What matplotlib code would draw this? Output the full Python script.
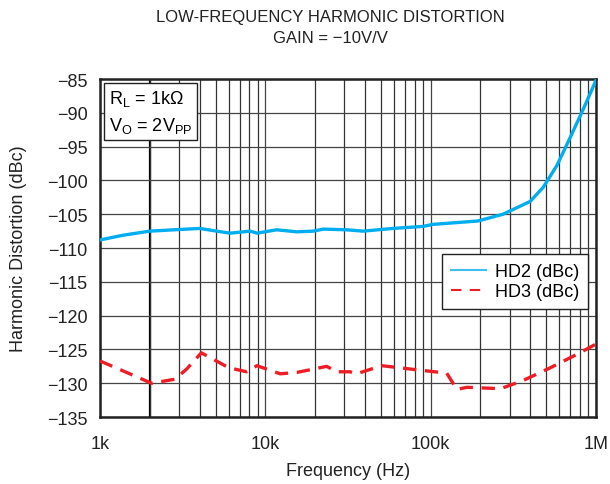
import matplotlib
matplotlib.use("Agg")
import matplotlib.pyplot as plt
from matplotlib.ticker import FixedLocator, NullFormatter
from matplotlib.lines import Line2D
import numpy as np

plt.rcParams['font.family'] = ['Liberation Sans', 'DejaVu Sans']

hd2_freq = [1000, 1380, 2000, 3340, 4000, 6100, 8100, 8900, 11700, 15500, 19500, 22400,
            31000, 39000, 59000, 90000, 103000, 193000, 274000, 400000, 480000, 580000,
            700000, 840000, 1000000]
hd2_db = [-108.8, -108.1, -107.5, -107.2, -107.1, -107.8, -107.5, -107.8, -107.3, -107.6,
          -107.5, -107.2, -107.3, -107.5, -107.1, -106.8, -106.5, -106.0, -105.0, -103.1,
          -101.0, -97.8, -93.6, -89.4, -85.2]

hd3_freq = [1000, 2050, 2840, 3340, 4100, 4800, 6000, 7700, 8900, 12300, 15500, 23500,
            27000, 32500, 35600, 50600, 82000, 125000, 144000, 166000, 265000, 362000,
            530000, 770000, 1000000]
hd3_db = [-126.7, -130.0, -129.4, -127.9, -125.5, -126.4, -127.7, -128.3, -127.4, -128.6,
          -128.4, -127.5, -128.3, -128.3, -128.6, -127.4, -128.0, -128.5, -130.9, -130.6,
          -130.8, -129.6, -127.7, -125.7, -124.2]

yticks = [-85, -90, -95, -100, -105, -110, -115, -120, -125, -130, -135]
xticks = [1e3, 1e4, 1e5, 1e6]
xticklabels = ['1k', '10k', '100k', '1M']

fig = plt.figure(figsize=(6.1, 4.85), dpi=100)
ax = fig.add_axes([0.164, 0.138, 0.813, 0.697])

ax.set_xscale('log')
ax.set_xlim(1e3, 1e6)
ax.set_ylim(-135, -85)

minor = [m * 10**e for e in range(3, 6) for m in range(2, 10)]
ax.xaxis.set_major_locator(FixedLocator(xticks))
ax.xaxis.set_minor_locator(FixedLocator(minor))
ax.xaxis.set_minor_formatter(NullFormatter())
ax.set_xticks(xticks)
ax.set_xticklabels(xticklabels)
ax.set_yticks(yticks)
ax.set_yticklabels([str(v).replace('-', '\u2212') for v in yticks])
ax.tick_params(which='both', length=0, labelsize=13, colors='#222222')
ax.tick_params(axis='y', pad=9)
ax.tick_params(axis='x', pad=13)

ax.grid(True, which='major', color='#444444', lw=0.9)
ax.grid(True, which='minor', axis='x', color='#333333', lw=0.9)
ax.axvline(2000, color='black', lw=1.6, zorder=1.5)
for s in ax.spines.values():
    s.set_linewidth(1.8)
    s.set_color('#222222')

ax.plot(hd2_freq, hd2_db, color='#00aeef', lw=2.4, zorder=3)
ax.plot(hd3_freq, hd3_db, color='#ee1c25', lw=2.4, dashes=(4, 2.6), zorder=3)

handles = [Line2D([], [], color='#3fbfef', lw=1.5),
           Line2D([], [], color='#ee1c25', lw=1.5, dashes=(5, 4))]
leg = ax.legend(handles, ['HD2 (dBc)', 'HD3 (dBc)'], loc='upper right',
                bbox_to_anchor=(0.984, 0.482), borderaxespad=0, fontsize=13,
                fancybox=False, framealpha=1, edgecolor='#222222', handlelength=1.9,
                borderpad=0.5, labelspacing=0.15, handletextpad=0.5)
leg.get_frame().set_linewidth(1.0)

ax.text(0.018, 0.972, 'R$_\\mathregular{L}$ = 1k\u03a9\nV$_\\mathregular{O}$ = 2V$_\\mathregular{PP}$',
        transform=ax.transAxes, va='top', ha='left', fontsize=13, linespacing=1.45,
        bbox=dict(boxstyle='square,pad=0.28', fc='white', ec='#222222', lw=1.0), zorder=5)

ax.set_xlabel('Frequency (Hz)', fontsize=13, labelpad=7, color='#222222')
ax.set_ylabel('Harmonic Distortion (dBc)', fontsize=13, labelpad=14, color='#222222')

fig.text(0.541, 0.963, 'LOW-FREQUENCY HARMONIC DISTORTION', ha='center', va='center',
         fontsize=12, color='#222222')
fig.text(0.541, 0.921, 'GAIN = \u221210V/V', ha='center', va='center', fontsize=12,
         color='#222222')

fig.savefig('out.png', dpi=100)
